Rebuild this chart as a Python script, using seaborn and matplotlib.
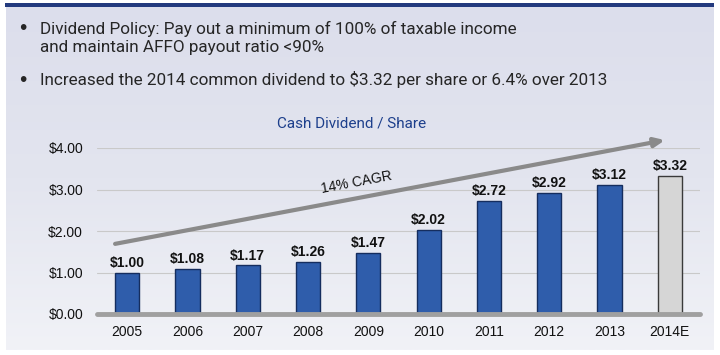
import numpy as np
import matplotlib.pyplot as plt
import seaborn as sns
from matplotlib.patches import Rectangle
from matplotlib.colors import LinearSegmentedColormap

# chart data
years = ['2005', '2006', '2007', '2008', '2009', '2010', '2011', '2012', '2013', '2014E']
dividends = [1.00, 1.08, 1.17, 1.26, 1.47, 2.02, 2.72, 2.92, 3.12, 3.32]
bar_colors = ['#2f5dab'] * 9 + ['#d6d6d6']
yticks = [0, 1, 2, 3, 4]
ytick_labels = ['$0.00', '$1.00', '$2.00', '$3.00', '$4.00']
bullets = [
    'Dividend Policy: Pay out a minimum of 100% of taxable income\nand maintain AFFO payout ratio <90%',
    'Increased the 2014 common dividend to $3.32 per share or 6.4% over 2013',
]
chart_title = 'Cash Dividend / Share'
cagr_label = '14% CAGR'

sns.set_theme(style='white')
plt.rcParams['font.family'] = ['Liberation Sans', 'DejaVu Sans']

fig = plt.figure(figsize=(7.2, 3.55), dpi=100)
fig.patch.set_facecolor('white')

# gradient panel behind everything
bg = fig.add_axes([6/720, 5/355, 708/720, 343/355])
cmap = LinearSegmentedColormap.from_list('panel', ['#dcdeec', '#e3e5ef', '#f1f2f7'])
bg.imshow(np.linspace(0, 1, 256).reshape(-1, 1), aspect='auto', cmap=cmap, extent=[0, 1, 0, 1])
bg.set_axis_off()
fig.add_artist(Rectangle((5/720, 1 - 7/355), 709/720, 4/355, transform=fig.transFigure,
                         color='#233a7e', lw=0))

# bullet text
txt = dict(fontsize=12.3, va='center', color='#262626', family='Roboto')
fig.text(19/720, 1 - 29/355, '•', fontsize=15, va='center', color='#262626')
fig.text(40/720, 1 - 38/355, bullets[0], linespacing=1.2, **txt)
fig.text(19/720, 1 - 80/355, '•', fontsize=15, va='center', color='#262626')
fig.text(40/720, 1 - 79/355, bullets[1], **txt)
fig.text(352/720, 1 - 123/355, chart_title, fontsize=11, ha='center', va='center',
         color='#1d3f8c', family='Roboto')

ax = fig.add_axes([97/720, 1 - 314/355, 603/720, 166/355])
ax.patch.set_alpha(0)
sns.barplot(x=years, y=dividends, hue=years, palette=bar_colors, legend=False,
            width=0.4, saturation=1, ax=ax, zorder=2)
for i, p in enumerate(ax.patches):
    p.set_edgecolor('#152d5e' if i < 9 else '#3a3a3a')
    p.set_linewidth(1)
for c in ax.containers:
    ax.bar_label(c, labels=[f'${v:.2f}' for v in c.datavalues], padding=2,
                 fontsize=10, fontweight='bold', color='#111111')

ax.set_xlim(-0.5, 9.5)
ax.set_ylim(0, 4)
ax.set_yticks(yticks)
ax.set_yticklabels(ytick_labels)
ax.tick_params(length=0, labelsize=10, colors='#111111')
ax.tick_params(axis='y', pad=10)
ax.tick_params(axis='x', pad=8)
ax.yaxis.grid(True, color='#c9c9c9', lw=0.8)
ax.set_axisbelow(True)
sns.despine(ax=ax, left=True, bottom=True)
ax.axhline(0, color='#a0a0a0', lw=3.5, zorder=3, clip_on=False)
ax.set_xlabel('')
ax.set_ylabel('')

# growth arrow
ax.annotate('', xy=(8.92, 4.19), xytext=(-0.2, 1.69), annotation_clip=False,
            arrowprops=dict(arrowstyle='-|>,head_length=0.5,head_width=0.22',
                            color='#8a8a8a', lw=3, shrinkA=0, shrinkB=0))
ax.text(3.81, 3.16, cagr_label, fontsize=10, ha='center', va='center',
        rotation=10.7, color='#111111')

fig.savefig('out.png', dpi=100)
